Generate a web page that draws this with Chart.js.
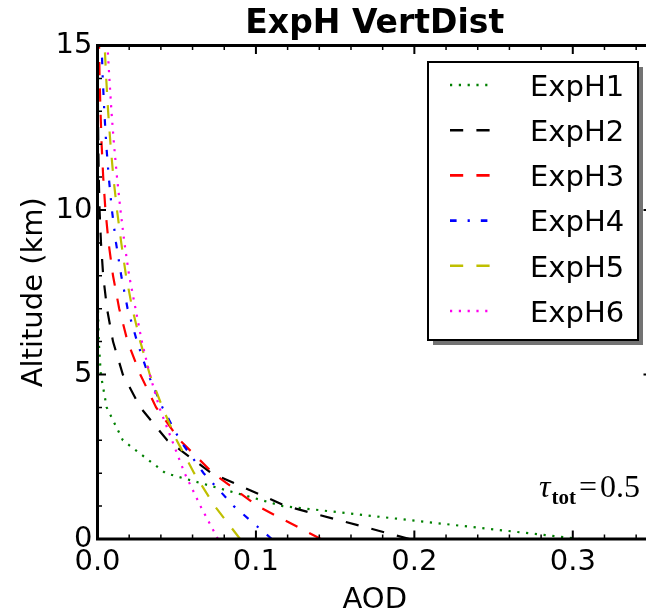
<!DOCTYPE html>
<html><head><meta charset="utf-8">
<script src="https://cdn.jsdelivr.net/npm/chart.js@4.4.0/dist/chart.umd.min.js"></script>
<style>html,body{margin:0;padding:0;background:#fff;overflow:hidden;width:646px;height:615px}canvas{display:block}</style>
</head><body>
<canvas id="c" width="660" height="615"></canvas>
<script>
// ---- data ----
const altitudeKm = [0, 1, 2, 3, 4, 5, 6, 7, 8, 9, 10, 11, 12, 13, 14, 15];
const expH1 = [0.305, 0.117, 0.043, 0.016, 0.0058, 0.0021, 0.0008, 0.0003, 0.0001, 0.00005, 0, 0, 0, 0, 0, 0];
const expH2 = [0.197, 0.119, 0.072, 0.044, 0.027, 0.016, 0.0098, 0.006, 0.0036, 0.0022, 0.0013, 0.0008, 0.0005, 0.0003, 0.0002, 0.0001];
const expH3 = [0.141, 0.101, 0.073, 0.052, 0.037, 0.027, 0.019, 0.0137, 0.0098, 0.007, 0.005, 0.0036, 0.0026, 0.0019, 0.0013, 0.001];
const expH4 = [0.110, 0.086, 0.067, 0.052, 0.041, 0.032, 0.025, 0.019, 0.015, 0.0117, 0.0091, 0.0071, 0.0055, 0.0043, 0.0033, 0.0026];
const expH5 = [0.090, 0.074, 0.061, 0.050, 0.041, 0.033, 0.027, 0.022, 0.018, 0.015, 0.0123, 0.010, 0.0082, 0.0067, 0.0055, 0.0045];
const expH6 = [0.076, 0.065, 0.055, 0.047, 0.039, 0.033, 0.028, 0.024, 0.020, 0.017, 0.0145, 0.0123, 0.0104, 0.0088, 0.0075, 0.0063];
const seriesLabels = ['ExpH1', 'ExpH2', 'ExpH3', 'ExpH4', 'ExpH5', 'ExpH6'];
const xTickValues = [0.0, 0.1, 0.2, 0.3];
const yTickValues = [0, 5, 10, 15];
const chartTitle = 'ExpH VertDist';
const xAxisTitle = 'AOD';
const yAxisTitle = 'Altitude (km)';
const tauTotal = '0.5';

// ---- styles ----
const seriesValues = [expH1, expH2, expH3, expH4, expH5, expH6];
const colors = ['#008000', '#000000', '#ff0000', '#0000ff', '#bfbf00', '#ff00ee'];
const dotted = [2.2, 6.6], dashed = [13.2, 13.2], dashDot = [6.6, 11, 2.2, 11];
const dashes = [dotted, dashed, dashed, dashDot, dashed, dotted];
const FONT = "'DejaVu Sans', sans-serif";

const datasets = seriesValues.map((vals, i) => ({
  label: seriesLabels[i],
  data: altitudeKm.map((a, j) => ({ x: vals[j], y: a })),
  borderColor: colors[i],
  backgroundColor: colors[i],
  borderDash: dashes[i],
  borderWidth: 2.2,
  borderCapStyle: 'butt',
  pointRadius: 0,
  tension: 0,
  fill: false,
  order: 6 - i
}));

const framePlugin = {
  id: 'frame',
  afterDatasetsDraw(chart) {
    const { ctx, chartArea: { left, right, top, bottom }, scales: { x, y } } = chart;
    ctx.save();
    ctx.strokeStyle = '#000';
    ctx.setLineDash([]);
    for (let i = 0; i * 0.02 <= x.max + 1e-9; i++) {
      const px = x.getPixelForValue(i * 0.02);
      const major = i % 5 === 0;
      const len = major ? 8.5 : 4.5;
      ctx.lineWidth = major ? 2 : 1.5;
      ctx.beginPath();
      ctx.moveTo(px, bottom); ctx.lineTo(px, bottom - len);
      ctx.moveTo(px, top); ctx.lineTo(px, top + len);
      ctx.stroke();
    }
    for (let v = 0; v <= y.max + 1e-9; v += 1) {
      const py = y.getPixelForValue(v);
      const major = v % 5 === 0;
      const len = major ? 8.5 : 4.5;
      ctx.lineWidth = major ? 2 : 1.5;
      ctx.beginPath();
      ctx.moveTo(left, py); ctx.lineTo(left + len, py);
      ctx.moveTo(right, py); ctx.lineTo(right - len, py);
      ctx.stroke();
    }
    ctx.lineWidth = 3;
    ctx.strokeRect(left, top, right - left, bottom - top);

    // tau annotation
    const baseY = y.getPixelForValue(0) - 42;
    const xr = right - 12;
    const fMain = "italic 32px 'Liberation Serif', serif";
    const fSub = "bold 21px 'Liberation Serif', serif";
    const fNum = "32px 'Liberation Serif', serif";
    ctx.fillStyle = '#000';
    ctx.textBaseline = 'alphabetic';
    ctx.textAlign = 'left';
    ctx.font = fMain; const wT = ctx.measureText('τ').width;
    ctx.font = fSub; const wS = ctx.measureText('tot').width;
    ctx.font = fNum; const wE = ctx.measureText('=').width; const wN = ctx.measureText(tauTotal).width;
    let xs = xr - wN - 3 - wE - 3 - wS - 1 - wT;
    ctx.font = fMain; ctx.fillText('τ', xs, baseY); xs += wT + 1;
    ctx.font = fSub; ctx.fillText('tot', xs, baseY + 7); xs += wS + 3;
    ctx.font = fNum; ctx.fillText('=', xs, baseY); xs += wE + 3;
    ctx.fillText(tauTotal, xs, baseY);
    ctx.restore();
  },
  afterDraw(chart) {
    const { ctx, chartArea: { right, top } } = chart;
    const bw = 210, bh = 278;
    const bx = right - 14 - bw, by = top + 16.5;
    ctx.save();
    ctx.fillStyle = 'rgba(0,0,0,0.55)';
    ctx.fillRect(bx + 5, by + 5, bw, bh);
    ctx.fillStyle = '#fff';
    ctx.fillRect(bx, by, bw, bh);
    ctx.lineWidth = 2; ctx.strokeStyle = '#000'; ctx.setLineDash([]);
    ctx.strokeRect(bx, by, bw, bh);
    chart.data.datasets.forEach((ds, i) => {
      const cy = by + 23 + i * 45.2;
      ctx.save();
      ctx.strokeStyle = ds.borderColor;
      ctx.lineWidth = 2.6;
      ctx.lineCap = 'butt';
      ctx.setLineDash(ds.borderDash);
      ctx.beginPath(); ctx.moveTo(bx + 22, cy); ctx.lineTo(bx + 65, cy); ctx.stroke();
      ctx.restore();
      ctx.fillStyle = '#000';
      ctx.font = '29px ' + FONT;
      ctx.textAlign = 'left';
      ctx.textBaseline = 'alphabetic';
      ctx.fillText(ds.label, bx + 102, cy + 10.8);
    });
    ctx.restore();
  }
};

new Chart(document.getElementById('c'), {
  type: 'line',
  data: { datasets },
  plugins: [framePlugin],
  options: {
    responsive: false,
    devicePixelRatio: 1,
    animation: false,
    events: [],
    layout: { padding: { left: 0, right: 8, top: 0, bottom: 0 } },
    plugins: {
      legend: { display: false },
      tooltip: { enabled: false },
      title: {
        display: true, text: chartTitle, fullSize: false, color: '#000',
        font: { family: FONT, size: 33, weight: 'bold', lineHeight: 1.2 },
        padding: { top: 5, bottom: 0.9 }
      }
    },
    scales: {
      x: {
        type: 'linear', position: 'bottom', min: 0, max: 0.35,
        grid: { display: false, drawTicks: false },
        border: { display: false },
        afterBuildTicks: s => { s.ticks = xTickValues.map(v => ({ value: v })); },
        afterFit: s => { s.height = 76; },
        ticks: { color: '#000', padding: 6, maxRotation: 0, autoSkip: false,
          font: { family: FONT, size: 29, lineHeight: 1.2 },
          callback: v => Number(v).toFixed(1) },
        title: { display: true, text: xAxisTitle, color: '#000',
          font: { family: FONT, size: 29, lineHeight: 1.0 }, padding: { top: 0, bottom: 0.5 } }
      },
      y: {
        type: 'linear', min: 0, max: 15,
        grid: { display: false, drawTicks: false },
        border: { display: false },
        afterBuildTicks: s => { s.ticks = yTickValues.map(v => ({ value: v })); },
        afterFit: s => { s.width = 97.5; },
        ticks: { color: '#000', padding: 5, autoSkip: false,
          font: { family: FONT, size: 29, lineHeight: 1.2 },
          callback: v => String(v) },
        title: { display: true, text: yAxisTitle, color: '#000',
          font: { family: FONT, size: 29, lineHeight: 1.0 }, padding: { top: 20, bottom: 0 } }
      }
    }
  }
});
</script>
</body></html>
